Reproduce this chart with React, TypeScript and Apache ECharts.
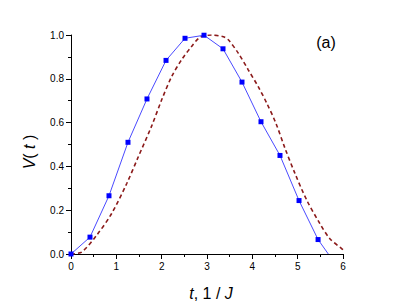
import React, { useEffect, useRef } from "react";
import * as echarts from "echarts";

const blueT = [0, 0.419, 0.838, 1.257, 1.676, 2.096, 2.515, 2.934, 3.353, 3.772, 4.191, 4.61, 5.03, 5.45, 5.676];
const blueV = [0, 0.077, 0.266, 0.51, 0.708, 0.884, 0.985, 0.999, 0.937, 0.785, 0.604, 0.45, 0.244, 0.066, 0];

const redT = [0, 0.235, 0.567, 0.897, 1.23, 1.485, 1.78, 2.0, 2.22, 2.44, 2.66, 2.85, 3.1, 3.36, 3.47, 3.69, 3.91, 4.13, 4.32, 4.52, 4.72, 4.94, 5.2, 5.49, 5.71, 5.97, 6.0];
const redV = [0, 0.009, 0.086, 0.185, 0.322, 0.444, 0.585, 0.704, 0.81, 0.887, 0.948, 0.99, 1.0, 0.992, 0.978, 0.917, 0.841, 0.764, 0.688, 0.597, 0.483, 0.368, 0.246, 0.139, 0.07, 0.025, 0.02];

const xTicks = { min: 0, max: 6, interval: 1 };
const yTicks = { min: 0, max: 1, interval: 0.2 };

const FONT = "Liberation Sans, Arial, sans-serif";

export default function App() {
  const ref = useRef<HTMLDivElement>(null);
  useEffect(() => {
    if (!ref.current) return;
    const chart = echarts.init(ref.current, undefined, { renderer: "svg" });
    const blueData = blueT.map((t, i) => {
      const last = i === blueT.length - 1;
      return last ? { value: [t, blueV[i]], symbol: "none" } : { value: [t, blueV[i]] };
    });
    const redData = redT.map((t, i) => [t, redV[i]]);
    const axisCommon = {
      axisLine: { show: true, lineStyle: { color: "#000", width: 1 } },
      axisTick: { show: true, inside: false, length: 5, lineStyle: { color: "#000", width: 1 } },
      minorTick: { show: true, splitNumber: 2, length: 3, lineStyle: { color: "#000", width: 1 } },
      splitLine: { show: false },
      axisLabel: { color: "#000", fontSize: 10, fontFamily: FONT, margin: 7 },
    };
    chart.setOption({
      animation: false,
      backgroundColor: "#fff",
      grid: { left: 71, right: 56, top: 35, bottom: 51, containLabel: false },
      xAxis: {
        type: "value",
        ...xTicks,
        ...axisCommon,
        axisLabel: { ...axisCommon.axisLabel, formatter: (v: number) => String(v) },
      },
      yAxis: {
        type: "value",
        ...yTicks,
        ...axisCommon,
        axisLabel: { ...axisCommon.axisLabel, formatter: (v: number) => v.toFixed(1) },
      },
      graphic: [
        {
          type: "text",
          x: 211,
          y: 293,
          style: {
            text: "{i|t}, 1 / {i|J}",
            fontSize: 16,
            fontFamily: FONT,
            fill: "#000",
            align: "center",
            verticalAlign: "middle",
            rich: { i: { fontStyle: "italic", fontSize: 16, fontFamily: FONT, fill: "#000" } },
          },
        },
        {
          type: "text",
          x: 29,
          y: 152,
          rotation: Math.PI / 2,
          style: {
            text: "{i|V}( {i|t} )",
            fontSize: 16,
            fontFamily: FONT,
            fill: "#000",
            align: "center",
            verticalAlign: "middle",
            rich: { i: { fontStyle: "italic", fontSize: 16, fontFamily: FONT, fill: "#000" } },
          },
        },
        {
          type: "text",
          x: 326,
          y: 42,
          style: {
            text: "(a)",
            fontSize: 16,
            fontFamily: FONT,
            fill: "#000",
            align: "center",
            verticalAlign: "middle",
          },
        },
      ],
      series: [
        {
          type: "line",
          data: redData,
          smooth: 0.3,
          showSymbol: false,
          symbol: "none",
          clip: true,
          lineStyle: { color: "#8b1a1a", width: 1.6, type: [4, 3] },
          z: 2,
        },
        {
          type: "line",
          data: blueData,
          symbol: "rect",
          symbolSize: 5,
          clip: true,
          itemStyle: { color: "#0000ff" },
          lineStyle: { color: "#4a4aff", width: 1 },
          z: 3,
        },
      ],
    });
    return () => chart.dispose();
  }, []);
  return (
    <div
      ref={ref}
      style={{ position: "fixed", left: 0, top: 0, width: 399, height: 305 }}
    />
  );
}
